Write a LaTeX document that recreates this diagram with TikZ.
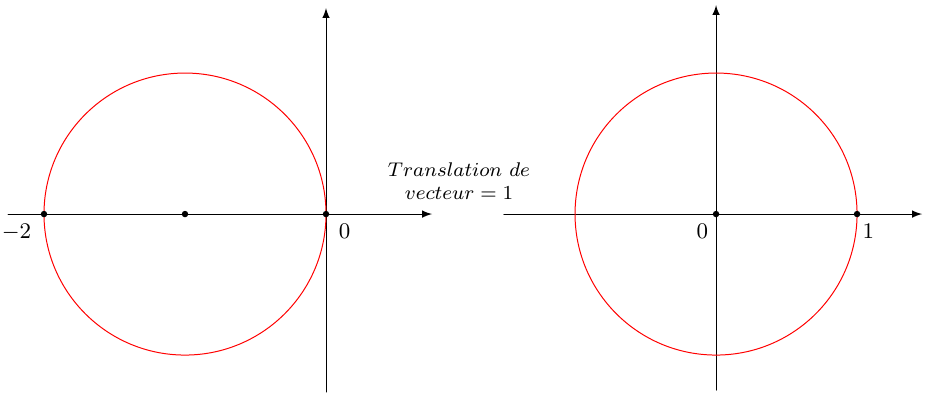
\documentclass[tikz,border=0pt]{standalone}
\begin{document}
\begin{tikzpicture}[x=2cm, y=2cm, line cap=round, line join=round, >=latex,
  axis/.style={->, black},
  cercle/.style={red},
  lbl/.style={font=\small, inner sep=2pt}]

% --- Parameters ---
\def\dx{2.766}   % shift of the right frame
\def\R{1}        % radius of both circles
\def\pt{1.3pt}   % dot radius

\useasboundingbox (-2.312,-1.270) rectangle (4.262,1.518);

% --- Left frame ---
\coordinate (Lxa) at (-2.255,0);
\coordinate (Lxb) at (0.752,0);
\coordinate (Lya) at (0,-1.262);
\coordinate (Lyb) at (0,1.461);
\coordinate (Lc)  at (-1,0);
\coordinate (Lm2) at (-2,0);
\coordinate (Lo)  at (0,0);
\draw[axis] (Lxa) -- (Lxb);
\draw[axis] (Lya) -- (Lyb);
\draw[cercle] (Lc) circle (\R);
\fill (Lm2) circle (\pt);
\fill (Lc)  circle (\pt);
\fill (Lo)  circle (\pt);
\node[lbl, below left, xshift=-3pt, yshift=-2pt]  (lm2) at (Lm2) {$-2$};
\node[lbl, below right, xshift=3pt, yshift=-2pt]  (lo)  at (Lo)  {$0$};

% --- Caption between the frames ---
\node[lbl, font=\footnotesize, align=center] (trans) at (0.943,0.234) {$Translation\ de$\\ $vecteur=1$};

% --- Right frame ---
\begin{scope}[xshift=\dx*2cm]
\coordinate (Rxa) at (-1.504,0);
\coordinate (Rxb) at (1.461,0);
\coordinate (Rya) at (0,-1.248);
\coordinate (Ryb) at (0,1.482);
\coordinate (Ro)  at (0,0);
\coordinate (Rp1) at (1,0);
\draw[axis] (Rxa) -- (Rxb);
\draw[axis] (Rya) -- (Ryb);
\draw[cercle] (Ro) circle (\R);
\fill (Ro)  circle (\pt);
\fill (Rp1) circle (\pt);
\node[lbl, below left, xshift=-1pt, yshift=-2pt]  (ro)  at (Ro)  {$0$};
\node[lbl, below right, yshift=-2pt] (rp1) at (Rp1) {$1$};
\end{scope}

\end{tikzpicture}
\end{document}
